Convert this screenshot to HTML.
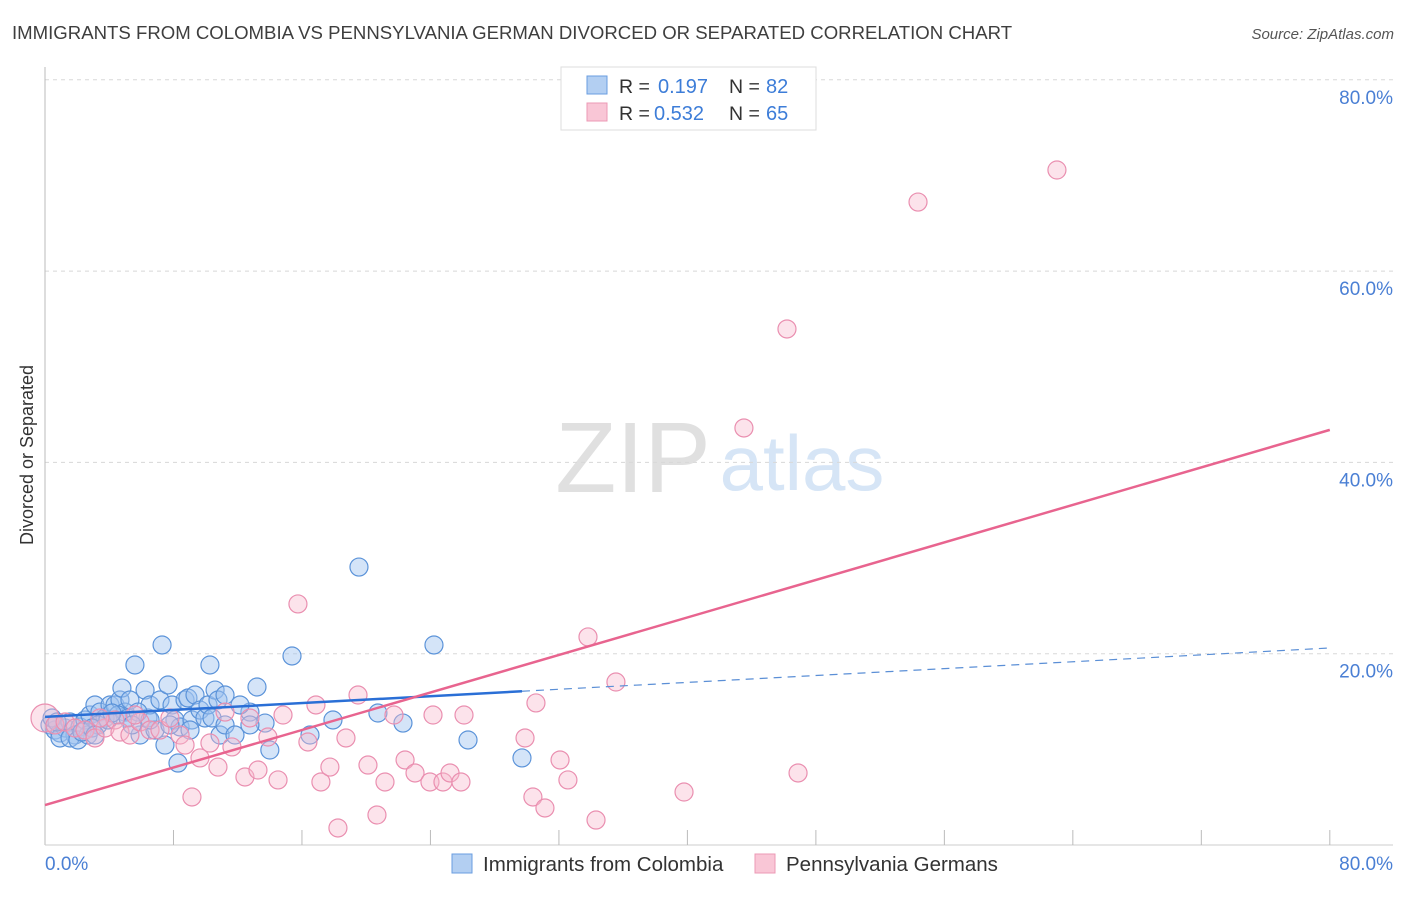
<!DOCTYPE html>
<html><head><meta charset="utf-8"><style>
body{margin:0;background:#fff;font-family:"Liberation Sans",sans-serif}
svg text{font-family:"Liberation Sans",sans-serif}
</style></head><body>
<svg id="chart" width="1406" height="892" xmlns="http://www.w3.org/2000/svg">
<text x="12" y="39" font-size="18.6" fill="#3e3e3e">IMMIGRANTS FROM COLOMBIA VS PENNSYLVANIA GERMAN DIVORCED OR SEPARATED CORRELATION CHART</text>
<text x="1394" y="39" font-size="15" fill="#555" font-style="italic" text-anchor="end">Source: ZipAtlas.com</text>
<text transform="translate(33,455) rotate(-90)" font-size="18" fill="#333" text-anchor="middle">Divorced or Separated</text>
<g>
<text x="633" y="492" font-size="100" fill="#e0e0e0" font-family="Liberation Serif" text-anchor="middle">ZIP</text>
<text x="802" y="490" font-size="78" fill="#d6e5f6" text-anchor="middle">atlas</text>
</g>
<g id="grid"></g><g id="axes"></g><g id="pts"></g><g id="lines"></g>
<g>
<rect x="561" y="67" width="255" height="63" fill="#fff" stroke="#ddd"/>
<rect x="587" y="76" width="20" height="18" fill="#b3cff2" stroke="#6a9de0"/>
<rect x="587" y="103" width="20" height="18" fill="#f9c6d6" stroke="#ec99b5"/>
<text x="619" y="93" font-size="19.5" fill="#333">R =</text>
<text x="658" y="93" font-size="20" fill="#3d7dd8">0.197</text>
<text x="729" y="93" font-size="19.5" fill="#333">N =</text>
<text x="766" y="93" font-size="20" fill="#3d7dd8">82</text>
<text x="619" y="120" font-size="19.5" fill="#333">R =</text>
<text x="654" y="120" font-size="20" fill="#3d7dd8">0.532</text>
<text x="729" y="120" font-size="19.5" fill="#333">N =</text>
<text x="766" y="120" font-size="20" fill="#3d7dd8">65</text>
</g>
<g>
<rect x="452" y="854" width="20" height="19" fill="#b3cff2" stroke="#6a9de0"/>
<text x="483" y="871" font-size="20.5" fill="#333">Immigrants from Colombia</text>
<rect x="755" y="854" width="20" height="19" fill="#f9c6d6" stroke="#ec99b5"/>
<text x="786" y="871" font-size="20.5" fill="#333">Pennsylvania Germans</text>
</g>
</svg>
<script>
const blueX=[0.31,0.62,0.93,1.25,1.56,1.87,2.18,2.49,2.80,3.11,3.42,3.74,4.05,4.36,4.67,4.79,4.98,5.29,5.60,5.92,6.23,6.41,6.54,6.85,7.16,7.29,7.47,7.66,7.91,8.09,8.28,8.41,8.72,8.90,9.15,9.34,9.65,9.96,10.15,10.27,10.40,10.59,10.77,10.90,11.21,11.83,12.76,13.2,13.7,14.0,15.38,16.5,17.93,19.55,20.73,22.29,24.22,26.34,29.70,0.93,1.56,0.44,0.75,2.05,2.68,3.30,3.92,4.55,5.17,5.79,6.54,2.30,2.93,4.17,5.42,7.78,9.03,11.21,12.14,12.76,3.11];
const blueY=[12.55,12.02,11.71,12.23,12.86,11.50,12.34,13.07,13.59,14.64,13.90,13.28,14.64,14.64,15.16,16.41,13.90,15.16,18.82,11.50,16.20,13.28,14.64,12.02,15.16,20.91,10.45,16.73,14.64,13.07,8.57,12.34,15.16,15.37,13.07,15.68,14.11,13.28,14.64,18.82,13.28,16.20,15.16,11.50,12.55,11.50,13.90,16.52,12.75,9.93,19.76,11.50,13.07,29.06,13.80,12.75,20.91,10.98,9.10,11.19,11.19,13.28,12.86,10.98,11.50,12.55,13.07,13.59,13.28,13.90,13.07,11.81,12.23,13.80,12.55,12.55,12.02,15.68,14.64,12.55,11.50];
const pinkX=[0.0,0.62,1.25,1.87,2.49,3.11,3.74,4.36,4.67,5.29,5.92,6.54,7.16,7.78,8.41,8.72,9.15,9.65,10.27,10.77,11.21,11.64,12.45,12.76,13.26,13.88,14.51,14.82,15.75,16.37,16.87,17.18,17.74,18.24,18.74,19.49,20.11,20.67,21.17,21.73,22.42,23.04,23.97,24.16,24.78,25.22,25.90,26.09,29.89,30.38,30.57,31.13,32.07,32.56,33.81,34.31,35.55,39.79,43.52,46.20,46.89,54.36,63.01,3.42,5.60];
const pinkY=[13.28,12.55,12.86,12.23,12.02,11.19,12.23,13.07,11.81,11.50,12.86,12.02,12.02,13.28,11.50,10.45,5.02,9.10,10.66,8.15,13.90,10.25,7.11,13.28,7.84,11.29,6.80,13.59,25.20,10.77,14.64,6.59,8.15,1.78,11.19,15.68,8.36,3.14,6.59,13.59,8.89,7.53,6.59,13.59,6.59,7.53,6.59,13.59,11.19,5.02,14.85,3.87,8.89,6.80,21.75,2.61,17.04,5.54,43.60,53.95,7.53,67.22,70.57,13.28,13.59];
const yTicks=[20,40,60,80];
const blueTrend=[13.4,20.6];
const blueSolidEnd=29.7;
const pinkTrend=[4.18,43.4];
const NS="http://www.w3.org/2000/svg";
const X=v=>45+v*16.06, Y=v=>845-v*9.565;
function mk(t,a,p){const e=document.createElementNS(NS,t);for(const k in a)e.setAttribute(k,a[k]);document.getElementById(p).appendChild(e);return e;}
yTicks.forEach(t=>{
 const g=mk('line',{x1:45,x2:1393,y1:Y(t),y2:Y(t),stroke:'#d8d8d8','stroke-dasharray':'4,4'},'grid');
 
 
 const l=mk('text',{x:1393,y:Y(t)+24,'font-size':19,fill:'#4a7fd4','text-anchor':'end'},'axes');
 
 
 l.textContent=t.toFixed(1)+'%';
});
const ax=mk('line',{x1:45,x2:45,y1:67,y2:845,stroke:'#bbb'},'axes');


const bx=mk('line',{x1:45,x2:1393,y1:845,y2:845,stroke:'#ccc'},'axes');


for(let i=1;i<=10;i++){const t=mk('line',{x1:X(i*8),x2:X(i*8),y1:830,y2:845,stroke:'#bbb'},'axes');
 
 }
[[0,'0.0%','start',45],[80,'80.0%','end',1393]].forEach(([v,s,a,px])=>{const t=mk('text',{x:px,y:870,'font-size':19,fill:'#4a7fd4','text-anchor':a},'axes');
 
 
 t.textContent=s;});
blueX.forEach((v,i)=>{const c=mk('circle',{cx:X(v),cy:Y(blueY[i]),r:9,fill:'rgba(160,196,240,0.45)',stroke:'#5b93d9','stroke-width':1.2},'pts');
 
 });
pinkX.forEach((v,i)=>{const c=mk('circle',{cx:X(v),cy:Y(pinkY[i]),r:i===0?14:9,fill:'rgba(248,185,206,0.4)',stroke:'#ea8fb0','stroke-width':1.2},'pts');
 
 });
const by=x=>blueTrend[0]+(blueTrend[1]-blueTrend[0])*x/80;
const b1=mk('line',{x1:X(0),y1:Y(by(0)),x2:X(blueSolidEnd),y2:Y(by(blueSolidEnd)),stroke:'#2a6fd6','stroke-width':2.5},'lines');


const b2=mk('line',{x1:X(blueSolidEnd),y1:Y(by(blueSolidEnd)),x2:X(80),y2:Y(by(80)),stroke:'#5b8fd6','stroke-width':1.2,'stroke-dasharray':'8,6'},'lines');


const p1=mk('line',{x1:X(0),y1:Y(pinkTrend[0]),x2:X(80),y2:Y(pinkTrend[1]),stroke:'#e8648f','stroke-width':2.5},'lines');


</script>
</body></html>
